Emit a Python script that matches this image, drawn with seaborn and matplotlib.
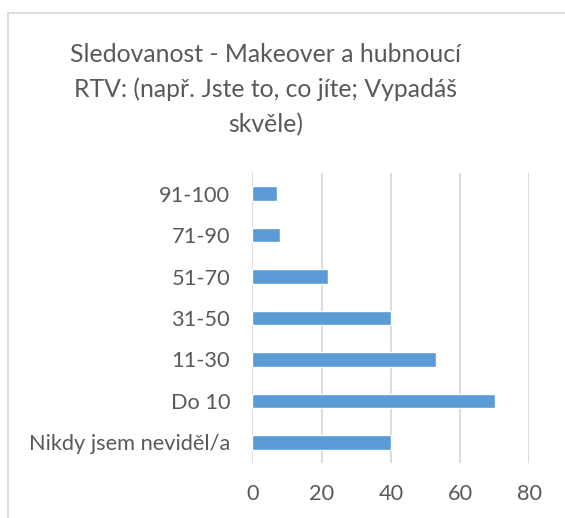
import matplotlib
matplotlib.use("Agg")
import matplotlib.pyplot as plt
import seaborn as sns
import pandas as pd
from matplotlib.lines import Line2D

categories = ["91-100", "71-90", "51-70", "31-50", "11-30", "Do 10", "Nikdy jsem neviděl/a"]
values = [7, 8, 22, 40, 53, 70, 40]
x_ticks = [0, 20, 40, 60, 80]
title_lines = ["Sledovanost - Makeover a hubnoucí",
               "RTV: (např. Jste to, co jíte; Vypadáš",
               "skvěle)"]

sns.set_theme(style="white")
plt.rcParams['font.family'] = ['Lato', 'DejaVu Sans']

TXT = "#595959"
W, H = 565, 518
fig = plt.figure(figsize=(W / 100, H / 100), dpi=100)
ax = fig.add_axes([252.3 / W, 1 - 463 / H, (529.3 - 252.3) / W, (463 - 173) / H])

df = pd.DataFrame({"cat": categories, "val": values})
sns.barplot(data=df, x="val", y="cat", orient="h", color="#5B9BD5",
            saturation=1, width=0.35, ax=ax, zorder=3)

ax.set_xlim(0, 80)
ax.set_ylim(6.5, -0.5)
ax.set_xticks(x_ticks)
ax.set_xticklabels([str(t) for t in x_ticks])
ax.xaxis.grid(True, color="#D9D9D9", linewidth=1.3, zorder=0)
ax.yaxis.grid(False)
for s in ax.spines.values():
    s.set_visible(False)
ax.set_xlabel("")
ax.set_ylabel("")
ax.tick_params(axis="y", length=0, pad=16, labelsize=15.7, labelcolor=TXT)
ax.tick_params(axis="x", length=0, pad=15, labelsize=15.7, labelcolor=TXT)

# chart frame
fig.add_artist(Line2D([8 / W, 1.0], [1 - 12.5 / H, 1 - 12.5 / H], color="#D9D9D9", linewidth=1.2))
fig.add_artist(Line2D([8 / W, 8 / W], [0.0, 1 - 12.5 / H], color="#D9D9D9", linewidth=1.2))

baselines = [62, 97, 132]
for line, yb in zip(title_lines, baselines):
    fig.text(266 / W, 1 - yb / H, line, ha="center", va="baseline",
             fontsize=17.8, color=TXT)

fig.savefig("out.png", dpi=100)
